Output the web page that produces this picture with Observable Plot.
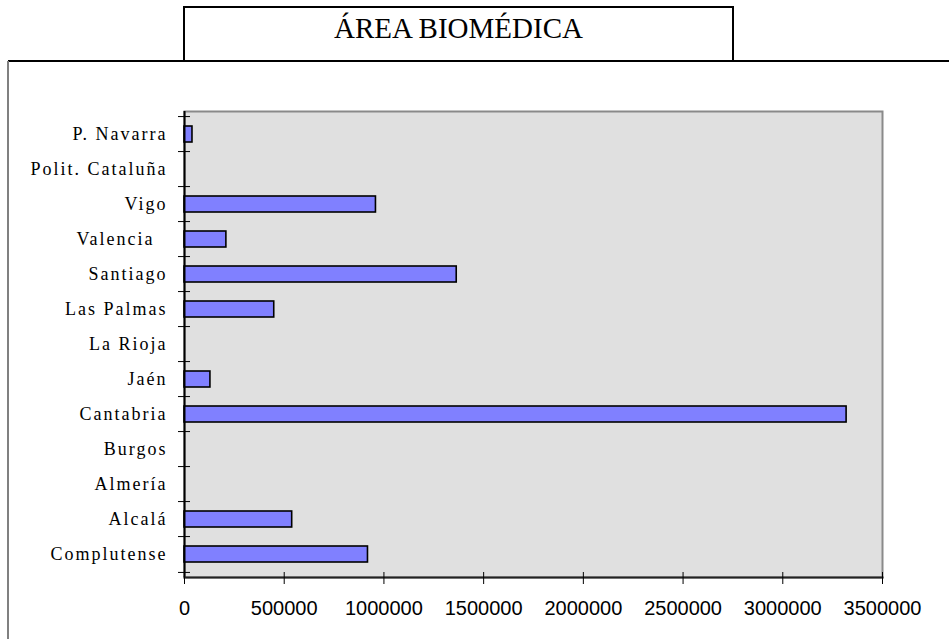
<!DOCTYPE html>
<html>
<head>
<meta charset="utf-8">
<script src="https://cdn.jsdelivr.net/npm/d3@7"></script>
<script src="https://cdn.jsdelivr.net/npm/@observablehq/plot@0.6"></script>
<style>
  html, body { margin: 0; padding: 0; background: #fff; }
  #wrap { position: relative; width: 949px; height: 639px; overflow: hidden; }
  #chart { position: absolute; left: 0; top: 0; }
  #titlebox { position: absolute; left: 183px; top: 6px; width: 547px; height: 54px;
    border: 2px solid #000; border-bottom: none; box-sizing: content-box; }
  #title { position: absolute; left: 0; right: 0; top: 3px; text-align: center;
    font-family: "Liberation Serif", serif; font-size: 29px; line-height: 34px; color: #000; }
  #hline { position: absolute; left: 8px; top: 60px; width: 941px; height: 2px; background: #000; }
  #vline { position: absolute; left: 7px; top: 61px; width: 2px; height: 578px; background: #808080; }
</style>
</head>
<body>
<div id="wrap">
  <div id="chart"></div>
  <div id="titlebox"><div id="title">ÁREA BIOMÉDICA</div></div>
  <div id="hline"></div>
  <div id="vline"></div>
</div>
<script>
const categories = ["P. Navarra", "Polit. Cataluña", "Vigo", "Valencia\u00a0\u00a0", "Santiago", "Las Palmas", "La Rioja", "Jaén", "Cantabria", "Burgos", "Almería", "Alcalá", "Complutense"];
const values = [40000, 0, 960000, 210000, 1365000, 450000, 0, 130000, 3320000, 0, 0, 540000, 920000];
const xTicks = [0, 500000, 1000000, 1500000, 2000000, 2500000, 3000000, 3500000];

const data = categories.map((name, i) => ({name, value: values[i]}));

const W = 949, H = 639, mT = 111, mB = 62, mL = 184, mR = 67;
const step = (H - mT - mB) / categories.length;

const chart = Plot.plot({
  width: W,
  height: H,
  marginLeft: mL,
  marginRight: mR,
  marginTop: mT,
  marginBottom: mB,
  style: {background: "transparent", color: "#000"},
  x: {domain: [0, 3500000]},
  y: {domain: categories, paddingInner: 0.55, paddingOuter: 0.275},
  marks: [
    Plot.frame({fill: "#e0e0e0", stroke: "#8a8a8a", strokeWidth: 2}),
    Plot.barX(data.filter(d => d.value > 0), {x: "value", y: "name", fill: "#8080ff", stroke: "#000", strokeWidth: 1.6}),
    Plot.ruleX([0], {stroke: "#000", strokeWidth: 2}),
    Plot.frame({anchor: "bottom", stroke: "#222", strokeWidth: 2}),
    Plot.axisY({tickSize: 0, tickPadding: 17, fontSize: 18, label: null}),
    Plot.axisY({tickSize: 12, dx: 6, dy: -step / 2, tickFormat: () => "", label: null}),
    Plot.axisY({ticks: [categories[categories.length - 1]], tickSize: 12, dx: 6, dy: step / 2, tickFormat: () => "", label: null}),
    Plot.axisX({ticks: xTicks, tickSize: 12, dy: -5, tickFormat: () => "", label: null}),
    Plot.axisX({ticks: xTicks, tickSize: 0, tickPadding: 23, tickFormat: d => String(d), fontSize: 20, label: null})
  ]
});
const catSet = new Set(categories);
const tickSet = new Set(xTicks.map(String));
chart.querySelectorAll("text").forEach(t => {
  const s = t.textContent;
  if (catSet.has(s)) {
    t.style.fontFamily = "'Liberation Serif', serif";
    t.style.fontSize = "18px";
    t.style.letterSpacing = "2px";
  } else if (tickSet.has(s)) {
    t.style.fontFamily = "'Liberation Sans', Arial, sans-serif";
    t.style.fontSize = "20px";
  }
});
document.getElementById("chart").appendChild(chart);
</script>
</body>
</html>
